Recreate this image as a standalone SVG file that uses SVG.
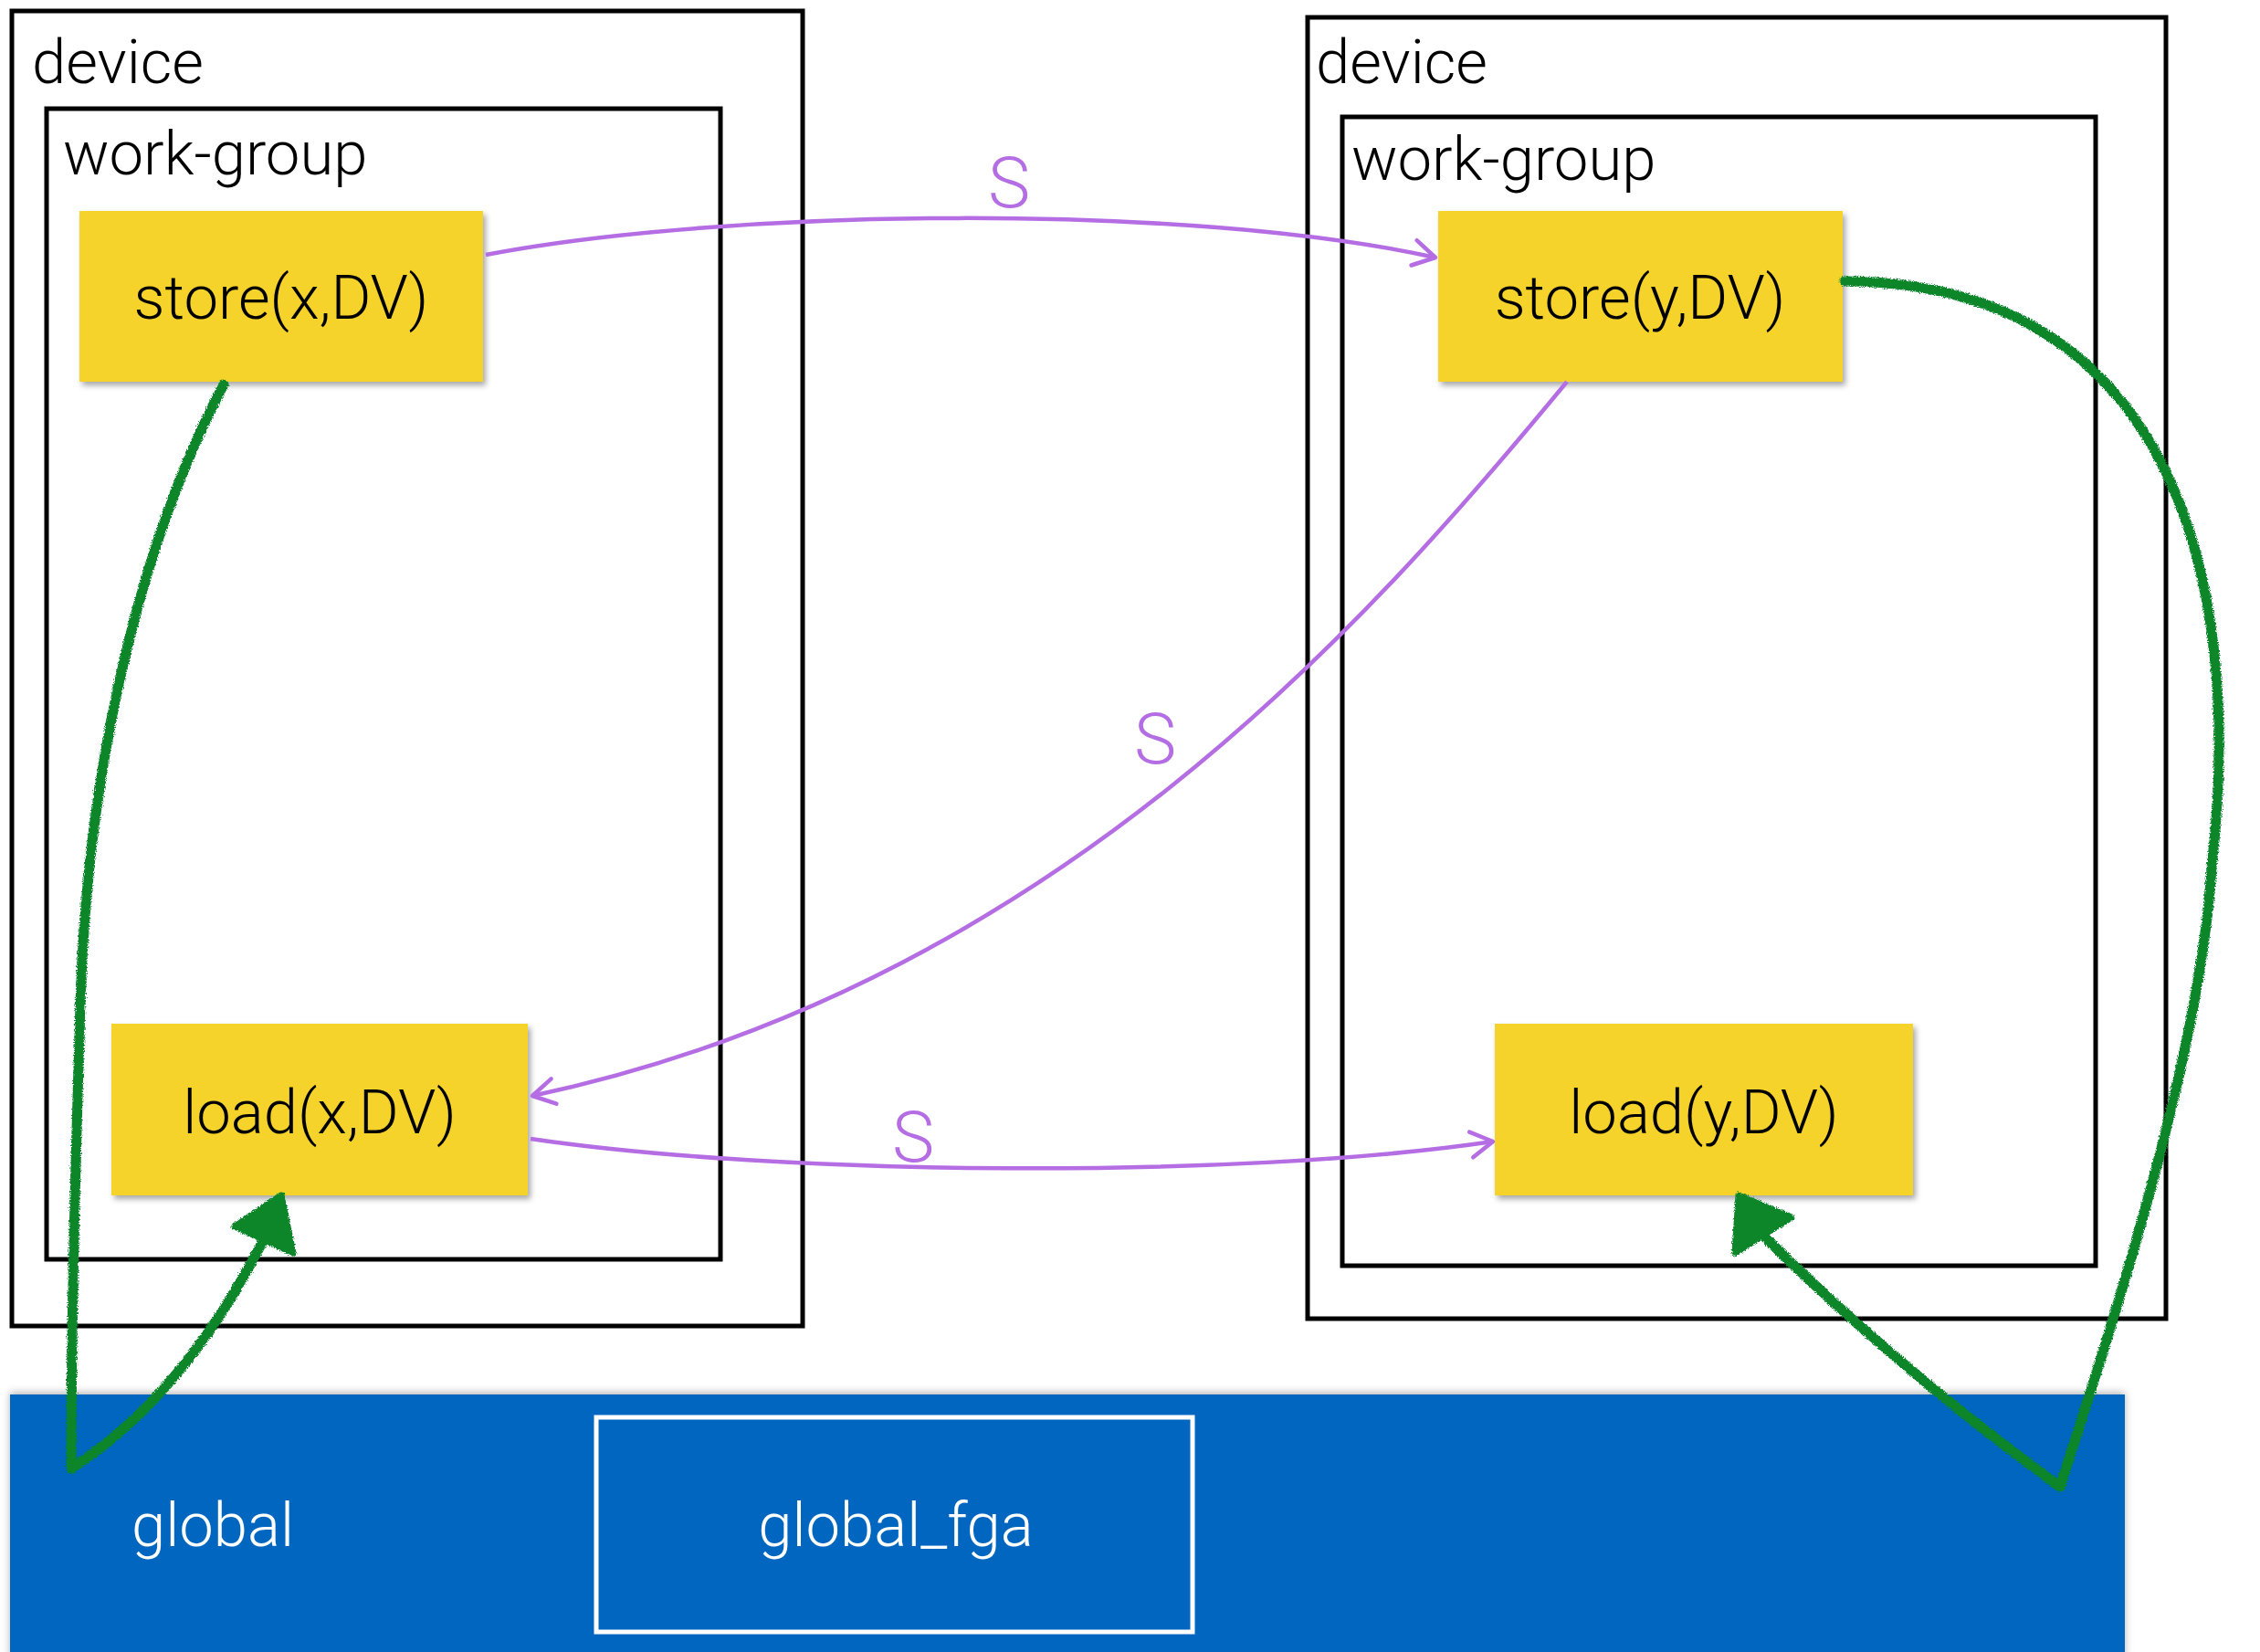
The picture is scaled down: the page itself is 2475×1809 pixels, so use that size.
<svg xmlns="http://www.w3.org/2000/svg" width="2475" height="1809" viewBox="0 0 2475 1809">
<style>
.frame{fill:none;stroke:#000;stroke-width:5}
.lbl{font-family:Roboto,"Liberation Sans",Arial,sans-serif;font-weight:300;font-size:67px;fill:#000}
.box{fill:#F5D329}
.boxt{font-family:Roboto,"Liberation Sans",Arial,sans-serif;font-weight:300;font-size:67px;fill:#000;text-anchor:middle}
.wt{font-family:Roboto,"Liberation Sans",Arial,sans-serif;font-weight:300;font-size:67px;fill:#fff}
.sync{fill:none;stroke:#B56DE4;stroke-width:4.5;marker-end:url(#arr)}
.slbl{font-family:Roboto,"Liberation Sans",Arial,sans-serif;font-weight:300;font-size:78px;fill:#B56DE4;text-anchor:middle}
.chalk{fill:none;stroke:#08862C;stroke-width:11;stroke-linecap:round;stroke-linejoin:round;filter:url(#rough)}
.chalkh{fill:#08862C;stroke:#08862C;stroke-width:7;stroke-linejoin:round;filter:url(#rough)}
</style>
<defs>
<marker id="arr" markerWidth="12" markerHeight="12" refX="10" refY="6" orient="auto" markerUnits="userSpaceOnUse" viewBox="0 0 12 12" overflow="visible">
<path d="M-14,-8 L10,6 L-14,20" fill="none" stroke="#B56DE4" stroke-width="4.5" stroke-linecap="round" stroke-linejoin="round"/>
</marker>
<filter id="shadow" x="-10%" y="-10%" width="130%" height="130%">
<feDropShadow dx="3" dy="4" stdDeviation="3" flood-color="#000" flood-opacity="0.35"/>
</filter>
<filter id="bshadow" x="-5%" y="-10%" width="110%" height="120%">
<feDropShadow dx="0" dy="-2" stdDeviation="4" flood-color="#000" flood-opacity="0.3"/>
</filter>
<filter id="rough" x="-10%" y="-10%" width="120%" height="120%">
<feTurbulence type="fractalNoise" baseFrequency="0.9" numOctaves="2" seed="3" result="n"/>
<feDisplacementMap in="SourceGraphic" in2="n" scale="5" xChannelSelector="R" yChannelSelector="G"/>
</filter>
</defs>

<g id="device-left">
<rect class="frame" x="13" y="12" width="866" height="1440"/>
<text class="lbl" x="35" y="91">device</text>
</g>
<g id="workgroup-left">
<rect class="frame" x="51" y="119" width="738" height="1260"/>
<text class="lbl" x="69" y="191">work-group</text>
</g>
<g id="device-right">
<rect class="frame" x="1432" y="19" width="940" height="1425"/>
<text class="lbl" x="1441" y="91">device</text>
</g>
<g id="workgroup-right">
<rect class="frame" x="1470" y="128" width="825" height="1258"/>
<text class="lbl" x="1480" y="197">work-group</text>
</g>

<g id="global">
<rect x="11" y="1527" width="2316" height="290" fill="#0566BF" filter="url(#bshadow)"/>
<text class="wt" x="144" y="1693">global</text>
</g>
<g id="global_fga">
<rect x="653" y="1552" width="653" height="235" fill="none" stroke="#fff" stroke-width="5"/>
<text class="wt" x="981" y="1693" text-anchor="middle">global_fga</text>
</g>

<g id="store-x">
<rect class="box" x="87" y="231" width="442" height="187" filter="url(#shadow)"/>
<text class="boxt" x="308" y="349">store(x,DV)</text>
</g>
<g id="load-x">
<rect class="box" x="122" y="1121" width="456" height="188" filter="url(#shadow)"/>
<text class="boxt" x="350" y="1241">load(x,DV)</text>
</g>
<g id="store-y">
<rect class="box" x="1575" y="231" width="443" height="187" filter="url(#shadow)"/>
<text class="boxt" x="1796" y="349">store(y,DV)</text>
</g>
<g id="load-y">
<rect class="box" x="1637" y="1121" width="458" height="188" filter="url(#shadow)"/>
<text class="boxt" x="1866" y="1241">load(y,DV)</text>
</g>

<g id="connectors">
<path class="sync" d="M532,279 C800,228 1300,222 1572,282"/>
<text class="slbl" x="1105" y="227">S</text>
<path class="sync" d="M1716,418 C1500,680 1150,1080 583,1200"/>
<text class="slbl" x="1265" y="836">S</text>
<path class="sync" d="M581,1247 C850,1287 1350,1292 1635,1250"/>
<text class="slbl" x="1000" y="1272">S</text>

<path class="chalk" d="M245,421 C150,600 95,850 88,1100 C82,1300 78,1450 78,1608 Q200,1530 289,1357"/>
<path class="chalkh" d="M308,1309 L257,1343 L321,1372 Z"/>
<path class="chalk" d="M2020,308 C2370,310 2460,620 2422,950 C2410,1150 2320,1430 2256,1628 Q2080,1500 1930,1352"/>
<path class="chalkh" d="M1904,1309 L1900,1372 L1962,1333 Z"/>
</g>
</svg>
